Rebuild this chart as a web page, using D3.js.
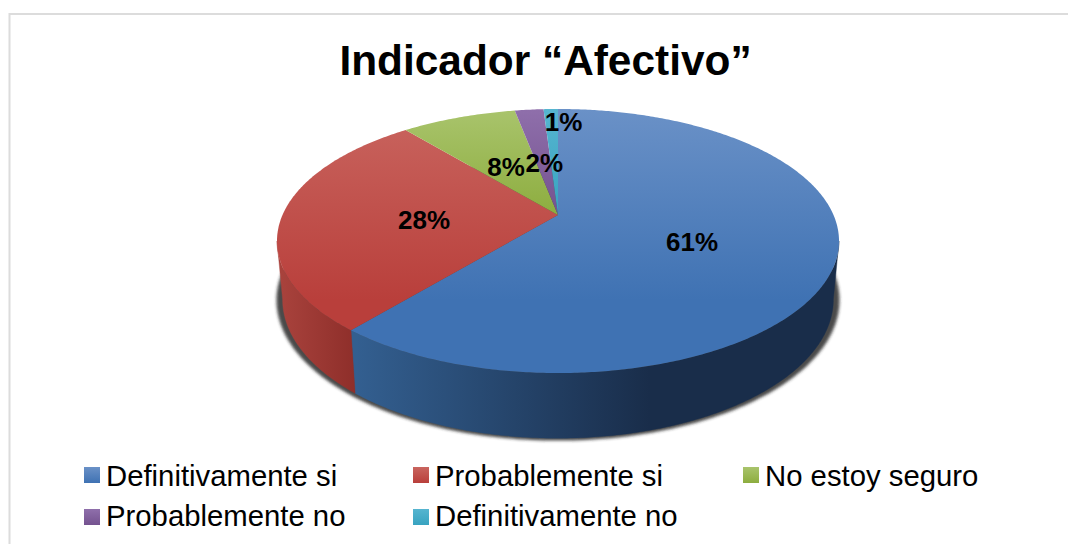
<!DOCTYPE html>
<html><head><meta charset="utf-8">
<script src="https://cdn.jsdelivr.net/npm/d3@7/dist/d3.min.js"></script>
<style>html,body{margin:0;padding:0;background:#fff}svg{display:block}text{font-family:"Liberation Sans",Arial,sans-serif;fill:#000}</style>
</head><body><svg id="c" width="1068" height="544"></svg>
<script>
const title = "Indicador “Afectivo”";
const categories = ["Definitivamente si","Probablemente si","No estoy seguro","Probablemente no","Definitivamente no"];
const values = [61,28,8,2,1];
const topLight = ["#6a91c7","#c9655f","#a9c46c","#8f6fab","#56b5d0"];
const topDark  = ["#3f72b3","#b93f3b","#8dad3f","#74528f","#38a3c0"];
const wallLight = ["#335f90","#a8423c"];
const wallDark  = ["#192d4a","#8e2e2a"];

const W=1068,H=544, svg=d3.select("#c");
const defs=svg.append("defs");

// Perspective projection of a disc, parametrised by clockwise angle from the top
function disc(cx,cy,A,B,k){
  return (a,f=1)=>{const u=f*Math.sin(a),v=-f*Math.cos(a),w=1-k*v;return [cx+A*u/w,cy+B*v/w];};
}
const K=0.197;
const topFace=disc(558,215,275.5,126.9,K);
const botFace=disc(558,272,270,133.5,K);
const shadowFace=disc(558,272.5,276,135,K);
const line=d3.line();
const sample=(p,a0,a1,f=1)=>{const n=Math.max(2,Math.ceil(Math.abs(a1-a0)/0.01));return d3.range(n+1).map(i=>p(a0+(a1-a0)*i/n,f));};

const arcs=d3.pie().sort(null).value(d=>d)(values);

// frame
svg.append("path").attr("d",`M9.5 ${H}V14H${W}`).attr("fill","none").attr("stroke","#dcdcdc").attr("stroke-width",2);

// title
svg.append("text").attr("x",545.5).attr("y",74.5).attr("text-anchor","middle").attr("font-size",42.4).attr("font-weight",700).text(title);

// gradients
categories.forEach((c,i)=>{
  const g=defs.append("linearGradient").attr("id","t"+i).attr("gradientUnits","userSpaceOnUse").attr("x1",0).attr("x2",0).attr("y1",109).attr("y2",i<2?300:215);
  g.append("stop").attr("offset",0).attr("stop-color",topLight[i]);
  g.append("stop").attr("offset",1).attr("stop-color",topDark[i]);
  const s=defs.append("linearGradient").attr("id","s"+i).attr("x1",0).attr("x2",0).attr("y1",0).attr("y2",1);
  s.append("stop").attr("offset",0).attr("stop-color",topLight[i]);
  s.append("stop").attr("offset",1).attr("stop-color",topDark[i]);
});
const wb=defs.append("linearGradient").attr("id","w0").attr("gradientUnits","userSpaceOnUse").attr("x1",356).attr("x2",650).attr("y1",0).attr("y2",0);
wb.append("stop").attr("offset",0).attr("stop-color",wallLight[0]);
wb.append("stop").attr("offset",1).attr("stop-color",wallDark[0]);
const wr=defs.append("linearGradient").attr("id","w1").attr("gradientUnits","userSpaceOnUse").attr("x1",282).attr("x2",356).attr("y1",0).attr("y2",0);
wr.append("stop").attr("offset",0).attr("stop-color",wallLight[1]);
wr.append("stop").attr("offset",1).attr("stop-color",wallDark[1]);
defs.append("filter").attr("id","blur").attr("x","-5%").attr("y","-5%").attr("width","110%").attr("height","110%")
  .append("feGaussianBlur").attr("stdDeviation",1.8);

// shadow
const full=d3.range(0,2*Math.PI,0.02);
svg.append("path").attr("d",line(full.map(a=>shadowFace(a)))+"Z").attr("fill","#2a2a2a").attr("fill-opacity",0.85).attr("filter","url(#blur)");

// visible wall between the two silhouette tangents
const tangR=Math.PI-Math.acos(K), tangL=Math.PI+Math.acos(K);
arcs.forEach((d,i)=>{
  const a0=Math.max(d.startAngle,tangR), a1=Math.min(d.endAngle,tangL);
  if(a1<=a0) return;
  const pts=sample(topFace,a0,a1).concat(sample(botFace,a1,a0));
  svg.append("path").attr("d",line(pts)+"Z").attr("fill",`url(#w${i})`).attr("stroke",`url(#w${i})`).attr("stroke-width",0.4);
});

// top face
arcs.forEach((d,i)=>{
  const pts=[topFace(0,0)].concat(sample(topFace,d.startAngle,d.endAngle));
  svg.append("path").attr("d",line(pts)+"Z").attr("fill",`url(#t${i})`);
});

// data labels
const labelFrac=[0.5,0.486,0.5,0.5,0.86], labelDx=[0,0,2,2,12], labelDy=[13.5,14,14,14,9];
arcs.forEach((d,i)=>{
  const p=topFace((d.startAngle+d.endAngle)/2,labelFrac[i]);
  svg.append("text").attr("x",p[0]+labelDx[i]).attr("y",p[1]+labelDy[i]).attr("text-anchor","middle")
    .attr("font-size",26).attr("font-weight",700).text(d3.format(".0f")(d.data)+"%");
});

// legend
const legX=[84,413,743,84,413], legY=[467,467,467,509,509], legTextY=[485.5,485.5,485.5,526,526];
categories.forEach((c,i)=>{
  svg.append("rect").attr("x",legX[i]).attr("y",legY[i]).attr("width",16).attr("height",16).attr("fill",`url(#s${i})`);
  svg.append("text").attr("x",legX[i]+22).attr("y",legTextY[i]).attr("font-size",29.3).text(c);
});
</script></body></html>
